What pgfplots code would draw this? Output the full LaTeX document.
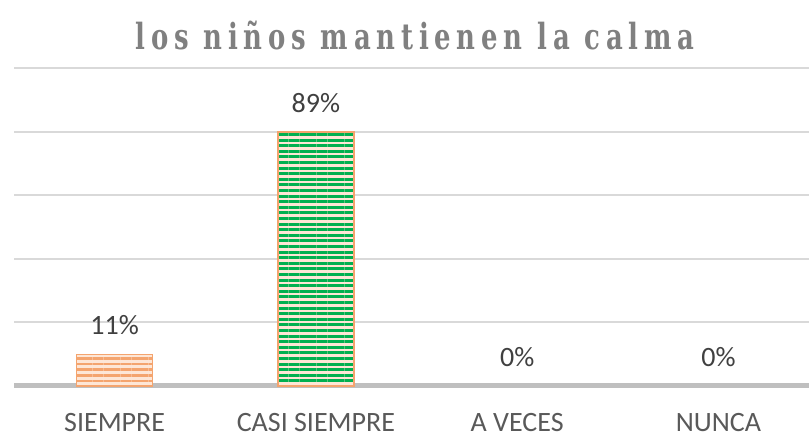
\documentclass[border=0pt]{standalone}
\usepackage{fontspec}
\setmainfont{Carlito}
\newfontfamily\titlefont[FakeStretch=0.72,LetterSpace=16]{DejaVu Serif}
\usepackage{pgfplots}
\pgfplotsset{compat=1.18}
\usetikzlibrary{patterns.meta}
\definecolor{gridgray}{HTML}{D9D9D9}
\definecolor{axisgray}{HTML}{BFBFBF}
\definecolor{labelgray}{HTML}{595959}
\definecolor{valgray}{HTML}{404040}
\definecolor{titlegray}{HTML}{808080}
\definecolor{orangeA}{HTML}{F4A46E}
\definecolor{orangeL}{HTML}{FDE6D6}
\definecolor{greenA}{HTML}{00B050}
\begin{document}
\begin{tikzpicture}
\path[use as bounding box] (0,0) rectangle (404.5pt,218.5pt);
\begin{axis}[
    at={(7pt,25.5pt)}, anchor=south west,
    scale only axis, width=397.5pt, height=159pt,
    xmin=-0.5, xmax=3.45, ymin=0, ymax=111.5,
    ytick={22.3,44.6,66.9,89.2,111.5}, yticklabels={},
    ymajorgrids, major grid style={gridgray, line width=1pt},
    major tick length=0pt,
    xtick={0,1,2,3}, xticklabels={SIEMPRE,CASI SIEMPRE,A VECES,NUNCA},
    xticklabel style={labelgray, font=\fontsize{14}{16}\selectfont, yshift=-10pt},
    axis line style={draw=none},
    extra y ticks={0}, extra y tick labels={},
    extra y tick style={ymajorgrids=true, major grid style={axisgray, line width=2.5pt}},
    ybar, bar width=38pt, bar shift=0pt,
    /pgf/number format/assume math mode=true,
    nodes near coords={\pgfmathprintnumber{\pgfplotspointmeta}\%},
    every node near coord/.append style={font=\fontsize{14}{16}\selectfont, valgray, yshift=6pt},
    clip=false,
]
% SIEMPRE
\addplot[draw=orangeA, line width=0.8pt, fill=orangeL,
    postaction={pattern={Lines[angle=0,distance=2.8pt,line width=1.3pt]}, pattern color=orangeA}]
    coordinates {(0,11)};
% CASI SIEMPRE
\addplot[draw=orangeA, line width=0.8pt, fill=orangeL,
    postaction={pattern={Lines[angle=0,distance=2.8pt,line width=1.5pt]}, pattern color=greenA}]
    coordinates {(1,89)};
% A VECES, NUNCA
\addplot[draw=none, fill=none] coordinates {(2,0) (3,0)};
\end{axis}
\node[titlegray, font=\titlefont\bfseries\fontsize{18}{20}\selectfont] at (207.5pt,200.5pt) {los niños mantienen la calma};
\end{tikzpicture}
\end{document}
